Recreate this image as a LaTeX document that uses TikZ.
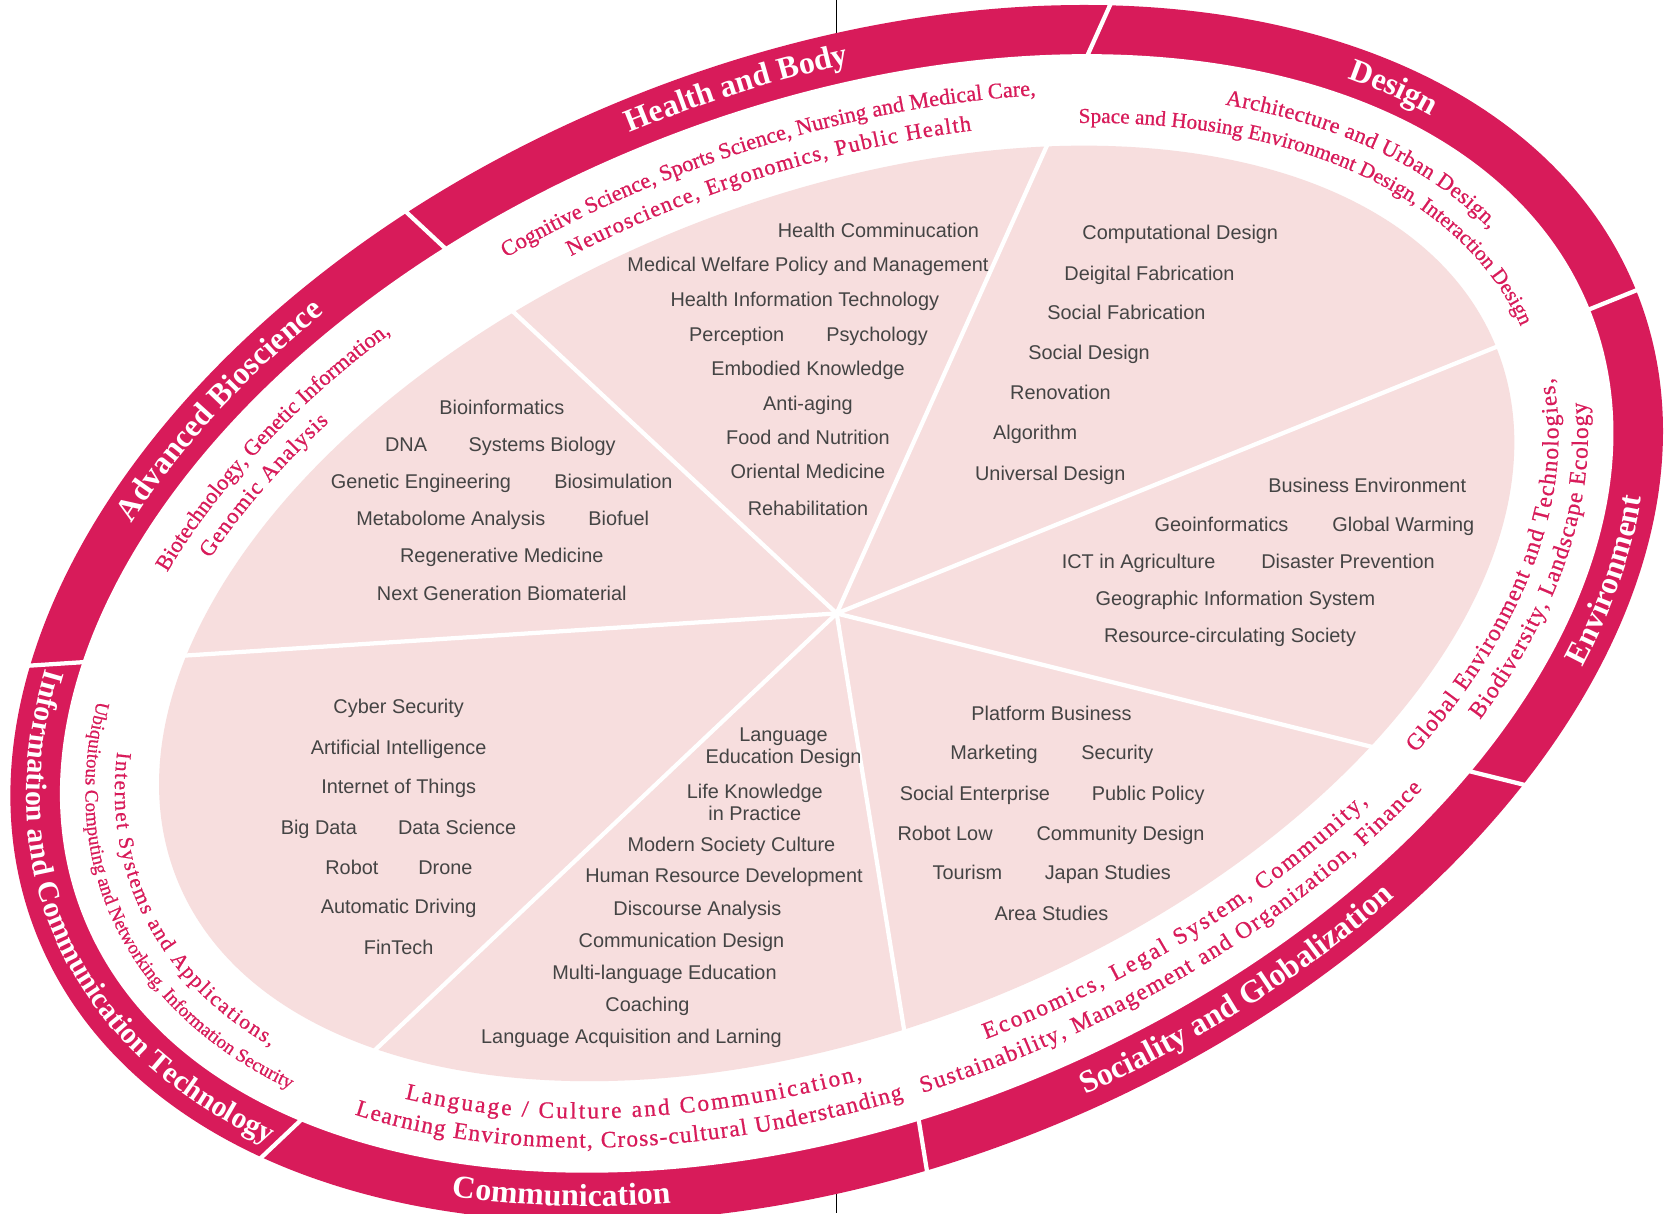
\documentclass[tikz,border=0pt]{standalone}
\usepackage{fontspec}
\setmainfont{Liberation Serif}
\newfontfamily\serifF{Liberation Serif}
\newfontfamily\subF{Liberation Serif}[FakeBold=0.7]
\newfontfamily\sansF{Liberation Sans}
\usetikzlibrary{decorations.text}
\definecolor{crim}{RGB}{216,27,90}
\definecolor{pinkfill}{RGB}{247,222,222}
\definecolor{txtgray}{RGB}{68,68,68}
% curved text along an ellipse arc (rotated 22 deg), centred on the arc
\newcommand\ringtext[7]{%
  \pgfmathtruncatemacro\ns{abs(#4-#3)+1}%
  \path[decorate,decoration={text along path,text align=center,
    text={|\serifF\bfseries\fontsize{#5}{#5}\selectfont\color{white}\kern#6pt|#7}}]
    plot[domain=#3:#4,samples=\ns,variable=\t]
    ({#1*cos(\t)*0.92718-#2*sin(\t)*0.37461},{#1*cos(\t)*0.37461+#2*sin(\t)*0.92718});}
\newcommand\subtext[7]{%
  \pgfmathtruncatemacro\ns{abs(#4-#3)+1}%
  \path[decorate,decoration={text along path,text align=center,
    text={|\subF\fontsize{#5}{#5}\selectfont\color{crim}\kern#6pt|#7}}]
    plot[domain=#3:#4,samples=\ns,variable=\t]
    ({#1*cos(\t)*0.92718-#2*sin(\t)*0.37461},{#1*cos(\t)*0.37461+#2*sin(\t)*0.92718});}
\tikzset{
  lbl/.style={font=\sansF\fontsize{18.7}{20.5}\selectfont, text=txtgray, inner sep=0pt, text height=12.5pt, text depth=3.5pt},
  lblw/.style={lbl, anchor=west},
  lble/.style={lbl, anchor=east},
  lbl2/.style={font=\sansF\fontsize{18.7}{20.5}\selectfont, text=txtgray, inner sep=0pt, align=center},
  spoke/.style={draw=white, line width=4pt},
}
\begin{document}
\begin{tikzpicture}[x=1pt,y=1pt]
\useasboundingbox (-787,-564) rectangle (781,577);
\coordinate (C) at (0,0);
\coordinate (topend) at (0,577);
\coordinate (botend) at (0,-564);
% axis line
\draw[black, line width=1.1pt] (topend) -- (botend);
% ring
\fill[white, rotate=22] (C) ellipse [x radius=811pt, y radius=523pt];
\fill[crim, rotate=22] (C) ellipse [x radius=811pt, y radius=523pt];
\fill[white, rotate=22] (C) ellipse [x radius=764pt, y radius=476pt];
% pink core
\fill[pinkfill, rotate=22] (C) ellipse [x radius=669pt, y radius=390pt];
% spokes and ring separators
\begin{scope}
\clip[rotate=22] (C) ellipse [x radius=830pt, y radius=540pt];
\foreach \ang/\nm in {137/s1, 65.8/s2, 22/s3, -14/s4, -80.8/s5, 223.4/s6, 183.7/s7}{
  \coordinate (\nm) at (\ang:950);
  \draw[spoke] (C) -- (\nm);
}
\end{scope}

% ring labels
\ringtext{780}{492}{105}{60}{30}{0}{Health and Body}
\ringtext{780}{492}{46}{15}{30}{0}{Design}
\ringtext{780}{492}{148}{108}{30}{0}{Advanced Bioscience}
\ringtext{796}{508}{-45}{-12}{30}{0}{Environment}
\ringtext{796}{508}{-92}{-55}{30}{0}{Sociality and Globalization}
\ringtext{796}{508}{220}{250}{30}{0}{Communication}
\ringtext{796}{508}{150}{214}{28}{0}{Information and Communication Technology}

% sub-field labels
\subtext{726}{438}{110}{53}{21}{0}{Cognitive Science, Sports Science, Nursing and Medical Care,}
\subtext{698}{410}{106}{58}{21}{1.2}{Neuroscience, Ergonomics, Public Health}
\subtext{726}{438}{51}{5}{21}{0.4}{Architecture and Urban Design,}
\subtext{698}{410}{62}{-7}{20}{0}{Space and Housing Environment Design, Interaction Design}
\subtext{726}{438}{150}{107}{21}{0}{Biotechnology, Genetic Information,}
\subtext{698}{410}{147}{116}{21}{1.0}{Genomic Analysis}
\subtext{712}{424}{154}{212}{20}{1.6}{Internet Systems and Applications,}
\subtext{740}{452}{147}{218}{18}{0}{Ubiquitous Computing and Networking, Information Security}
\subtext{712}{424}{211}{265}{22}{2.1}{Language / Culture and Communication,}
\subtext{740}{452}{207}{268}{22}{1.1}{Learning Environment, Cross-cultural Understanding}
\subtext{712}{424}{262}{311}{22}{2.2}{Economics, Legal System, Community,}
\subtext{740}{452}{256}{315}{22}{1.4}{Sustainability, Management and Organization, Finance}
\subtext{712}{424}{-56}{2}{22}{1.2}{Global Environment and Technologies,}
\subtext{740}{452}{-51}{-2}{22}{1.0}{Biodiversity, Landscape Ecology}

% Health and Body
\node[lble] (h1) at (134,358) {Health Comminucation};
\node[lbl] (h2) at (-27,326) {Medical Welfare Policy and Management};
\node[lbl] (h3) at (-30,293) {Health Information Technology};
\node[lbl] (h4) at (-94,260) {Perception};
\node[lbl] (h5) at (38,260) {Psychology};
\node[lbl] (h6) at (-27,228) {Embodied Knowledge};
\node[lbl] (h7) at (-27,195) {Anti-aging};
\node[lbl] (h8) at (-27,163) {Food and Nutrition};
\node[lbl] (h9) at (-27,131) {Oriental Medicine};
\node[lbl] (h10) at (-27,97) {Rehabilitation};
% Design
\node[lblw] (d1) at (231,356) {Computational Design};
\node[lblw] (d2) at (214,318) {Deigital Fabrication};
\node[lblw] (d3) at (198,281) {Social Fabrication};
\node[lblw] (d4) at (180,243) {Social Design};
\node[lblw] (d5) at (163,206) {Renovation};
\node[lblw] (d6) at (147,168) {Algorithm};
\node[lblw] (d7) at (130,130) {Universal Design};
% Environment
\node[lbl] (e1) at (499,118) {Business Environment};
\node[lbl] (e2) at (362,82) {Geoinformatics};
\node[lbl] (e3) at (533,82) {Global Warming};
\node[lbl] (e4) at (284,47) {ICT in Agriculture};
\node[lbl] (e5) at (481,47) {Disaster Prevention};
\node[lbl] (e6) at (375,12) {Geographic Information System};
\node[lbl] (e7) at (370,-23) {Resource-circulating Society};
% Sociality and Globalization
\node[lbl] (g1) at (202,-96) {Platform Business};
\node[lbl] (g2) at (148,-133) {Marketing};
\node[lbl] (g3) at (264,-133) {Security};
\node[lbl] (g4) at (130,-171) {Social Enterprise};
\node[lbl] (g5) at (293,-171) {Public Policy};
\node[lbl] (g6) at (102,-209) {Robot Low};
\node[lbl] (g7) at (267,-209) {Community Design};
\node[lbl] (g8) at (123,-246) {Tourism};
\node[lbl] (g9) at (255,-246) {Japan Studies};
\node[lbl] (g10) at (202,-284) {Area Studies};
% Communication
\node[lbl2] (c1) at (-50,-126) {Language\\Education Design};
\node[lbl2] (c2) at (-77,-178) {Life Knowledge\\in Practice};
\node[lbl] (c3) at (-99,-219) {Modern Society Culture};
\node[lbl] (c4) at (-106,-249) {Human Resource Development};
\node[lbl] (c5) at (-131,-280) {Discourse Analysis};
\node[lbl] (c6) at (-146,-310) {Communication Design};
\node[lbl] (c7) at (-162,-340) {Multi-language Education};
\node[lbl] (c8) at (-178,-370) {Coaching};
\node[lbl] (c9) at (-193,-400) {Language Acquisition and Larning};
% ICT
\node[lbl] (i1) at (-412,-90) {Cyber Security};
\node[lbl] (i2) at (-412,-128) {Artificial Intelligence};
\node[lbl] (i3) at (-412,-165) {Internet of Things};
\node[lbl] (i4) at (-487,-203) {Big Data};
\node[lbl] (i5) at (-357,-203) {Data Science};
\node[lbl] (i6) at (-456,-241) {Robot};
\node[lbl] (i7) at (-368,-241) {Drone};
\node[lbl] (i8) at (-412,-278) {Automatic Driving};
\node[lbl] (i9) at (-412,-316) {FinTech};
% Advanced Bioscience
\node[lbl] (b1) at (-315,192) {Bioinformatics};
\node[lbl] (b2) at (-405,157) {DNA};
\node[lbl] (b3) at (-277,157) {Systems Biology};
\node[lbl] (b4) at (-391,122) {Genetic Engineering};
\node[lbl] (b5) at (-210,122) {Biosimulation};
\node[lbl] (b6) at (-363,87) {Metabolome Analysis};
\node[lbl] (b7) at (-205,87) {Biofuel};
\node[lbl] (b8) at (-315,52) {Regenerative Medicine};
\node[lbl] (b9) at (-315,17) {Next Generation Biomaterial};
\end{tikzpicture}
\end{document}
